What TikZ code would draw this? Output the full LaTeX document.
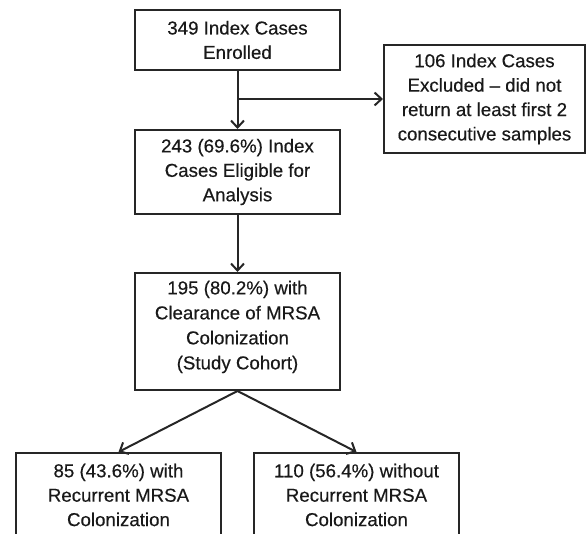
\documentclass[tikz,border=0pt]{standalone}
\usepackage{fontspec}
\setmainfont{Liberation Sans}[FakeBold=0.4]
\usetikzlibrary{arrows.meta}
\begin{document}
\begin{tikzpicture}[x=1pt,y=-1pt,
  box/.style={draw=black!85, line width=2pt, rectangle, align=center, inner sep=0pt,
    font=\fontsize{18.7}{24.4}\selectfont, text=black!90},
  txt/.style={align=center, inner sep=0pt, font=\fontsize{18.7}{25}\selectfont, text=black!90},
  conn/.style={draw=black!85, line width=2pt, -{Straight Barb[length=7pt,width=13pt]}}]
\useasboundingbox (0,0) rectangle (587,534);
\clip (0,0) rectangle (587,534);
\node[box, minimum width=205pt, minimum height=60pt] (enr) at (237.5,40) {349 Index Cases\\Enrolled};
\node[box, minimum width=201pt, minimum height=108pt] (exc) at (484.5,99) {106 Index Cases\\Excluded -- did not\\return at least first 2\\consecutive samples};
\node[box, minimum width=205pt, minimum height=84pt] (eli) at (237.5,172) {243 (69.6\%) Index\\Cases Eligible for\\Analysis};
\node[box, minimum width=205pt, minimum height=117pt] (coh) at (237.5,331.5) {};
\node[txt] (cohtext) at (237.5,327) {195 (80.2\%) with\\Clearance of MRSA\\Colonization\\(Study Cohort)};
\node[box, minimum width=205pt, minimum height=84pt, anchor=north] (rec) at (118.5,452) {85 (43.6\%) with\\Recurrent MRSA\\Colonization};
\node[box, minimum width=205pt, minimum height=84pt, anchor=north] (nrec) at (356.5,452) {110 (56.4\%) without\\Recurrent MRSA\\Colonization};
\coordinate (br) at (enr.south |- exc.west);
\draw[conn] (enr.south) -- (eli.north);
\draw[conn] (br) -- (exc.west);
\draw[conn] (eli.south) -- (coh.north);
\draw[conn] (coh.south) -- (rec.north);
\draw[conn] (coh.south) -- (nrec.north);
\end{tikzpicture}
\end{document}
